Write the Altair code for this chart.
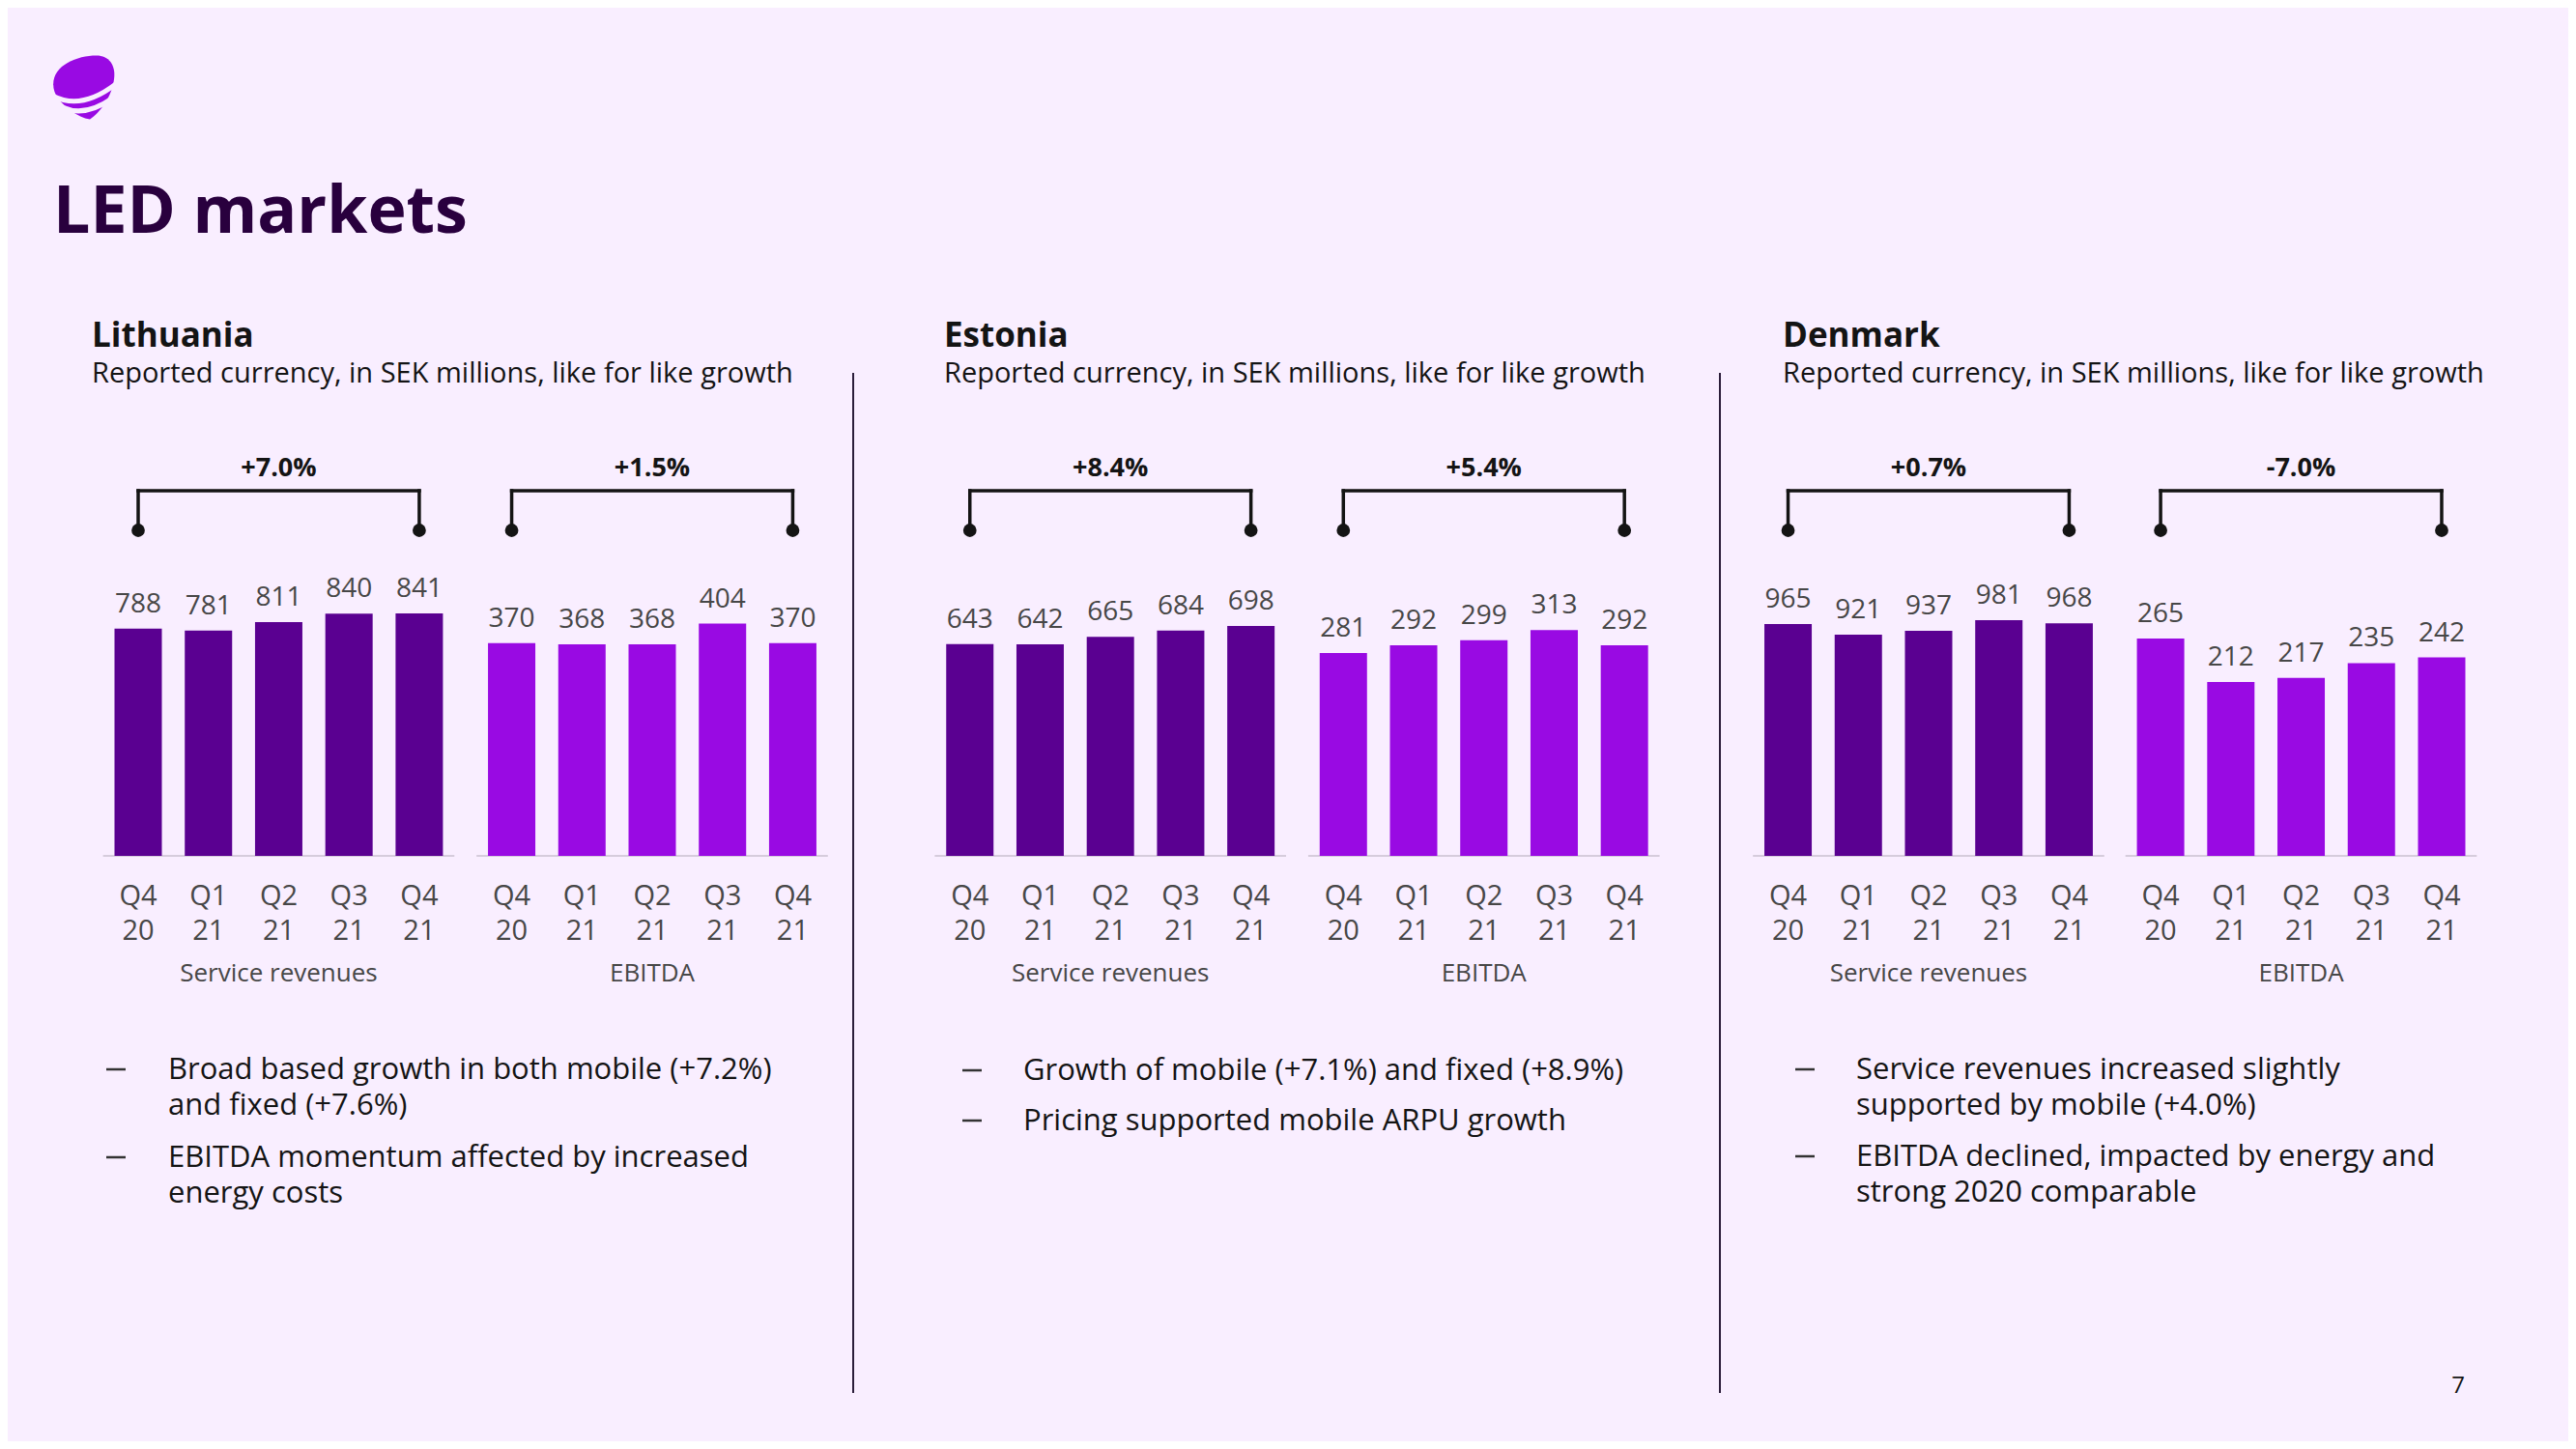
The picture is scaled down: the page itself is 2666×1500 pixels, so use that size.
import altair as alt
import pandas as pd

# ---------------- data ----------------
quarters = ["Q4", "Q1", "Q2", "Q3", "Q4"]
years = ["20", "21", "21", "21", "21"]

lt_sr = [788, 781, 811, 840, 841]
lt_ebitda = [370, 368, 368, 404, 370]
ee_sr = [643, 642, 665, 684, 698]
ee_ebitda = [281, 292, 299, 313, 292]
dk_sr = [965, 921, 937, 981, 968]
dk_ebitda = [265, 212, 217, 235, 242]

lt_growth = ["+7.0%", "+1.5%"]
ee_growth = ["+8.4%", "+5.4%"]
dk_growth = ["+0.7%", "-7.0%"]

metric_names = ["Service revenues", "EBITDA"]
countries = ["Lithuania", "Estonia", "Denmark"]
subtitle = "Reported currency, in SEK millions, like for like growth"
page_title = "LED markets"

lt_bullets = [["Broad based growth in both mobile (+7.2%)", "and fixed (+7.6%)"],
              ["EBITDA momentum affected by increased", "energy costs"]]
ee_bullets = [["Growth of mobile (+7.1%) and fixed (+8.9%)"],
              ["Pricing supported mobile ARPU growth"]]
dk_bullets = [["Service revenues increased slightly", "supported by mobile (+4.0%)"],
              ["EBITDA declined, impacted by energy and", "strong 2020 comparable"]]

# ---------------- style / layout ----------------
W, H = 2650, 1484
OFF = 8
FONT = "Open Sans"
BG = "#F9EEFF"
DARK = "#5A0091"
BRIGHT = "#990AE3"
TITLE_C = "#29003E"
INK = "#141414"
GREY = "#474747"
AXIS_C = "#D6CCDC"

STEP = 73.0
BAR_W = 49
BASE = 886

panels = [
    (lt_sr, metric_names[0], lt_growth[0], DARK, 102, 0.2985),
    (lt_ebitda, metric_names[1], lt_growth[1], BRIGHT, 490, 0.595),
    (ee_sr, metric_names[0], ee_growth[0], DARK, 966, 0.341),
    (ee_ebitda, metric_names[1], ee_growth[1], BRIGHT, 1354, 0.747),
    (dk_sr, metric_names[0], dk_growth[0], DARK, 1816, 0.2487),
    (dk_ebitda, metric_names[1], dk_growth[1], BRIGHT, 2203, 0.849),
]


def one():
    return alt.Data(values=[{}])


def panel(values, metric, growth, color, x0, k):
    x0c = x0 - OFF
    d0 = -0.5 - x0c / STEP
    xs = alt.Scale(domain=[d0, d0 + W / STEP], nice=False, zero=False)
    bc = BASE - OFF
    y0 = (bc - H) / k
    ys = alt.Scale(domain=[y0, y0 + H / k], nice=False, zero=False)

    df = pd.DataFrame({"idx": list(range(len(values))), "value": values,
                       "q": quarters, "yr": years})
    base = alt.Chart(df)
    X = alt.X("idx:Q", scale=xs, axis=None)
    Y = alt.Y("value:Q", scale=ys, axis=None)

    bars = base.mark_bar(size=BAR_W, color=color).encode(x=X, y=Y)
    vals = base.mark_text(dy=-17, baseline="alphabetic", fontSize=28, font=FONT,
                          color=GREY).encode(x=X, y=Y, text="value:Q")
    axis_line = alt.Chart(one()).mark_rule(color=AXIS_C, strokeWidth=2).encode(
        x=alt.XDatum(-0.5, type="quantitative", scale=xs, axis=None),
        x2=alt.X2Datum(len(values) - 0.5),
        y=alt.YDatum(0, type="quantitative", scale=ys, axis=None))
    qlab = base.mark_text(baseline="alphabetic", fontSize=29, font=FONT,
                          color=GREY).encode(x=X, y=alt.value(937 - OFF), text="q:N")
    ylab = base.mark_text(baseline="alphabetic", fontSize=29, font=FONT,
                          color=GREY).encode(x=X, y=alt.value(973 - OFF), text="yr:N")
    mid = alt.XDatum((len(values) - 1) / 2, type="quantitative", scale=xs, axis=None)
    cat = alt.Chart(pd.DataFrame({"m": [metric]})).mark_text(
        baseline="alphabetic", fontSize=26, font=FONT, color=GREY).encode(
        x=mid, y=alt.value(1016 - OFF), text="m:N")
    hline = base.mark_rule(color=INK, strokeWidth=3.5, strokeCap="square").encode(
        x=alt.X("min(idx):Q", scale=xs, axis=None), x2="max(idx):Q",
        y=alt.value(508 - OFF))
    ends = base.transform_filter(f"datum.idx == 0 || datum.idx == {len(values) - 1}")
    vlines = ends.mark_rule(color=INK, strokeWidth=3.5, strokeCap="square").encode(
        x=X, y=alt.value(508 - OFF), y2=alt.value(549 - OFF))
    dots = ends.mark_circle(size=190, color=INK, opacity=1).encode(
        x=X, y=alt.value(549 - OFF))
    glab = alt.Chart(pd.DataFrame({"g": [growth]})).mark_text(
        baseline="alphabetic", fontSize=27, fontWeight="bold", font=FONT,
        color=INK).encode(x=mid, y=alt.value(493 - OFF), text="g:N")
    return alt.layer(axis_line, bars, vals, qlab, ylab, cat, hline, vlines, dots, glab)


def txt(text, x, y, size, color=INK, weight="normal", align="left"):
    props = dict(align=align, baseline="alphabetic", fontSize=size,
                 fontWeight=weight, color=color, font=FONT)
    return alt.Chart(pd.DataFrame({"t": [text]})).mark_text(**props).encode(
        x=alt.value(x - OFF), y=alt.value(y - OFF), text="t:N")


def vrule(x, y1, y2):
    return alt.Chart(one()).mark_rule(color="#2B1D3A", strokeWidth=2).encode(
        x=alt.value(x - OFF), y=alt.value(y1 - OFF), y2=alt.value(y2 - OFF))


def dash(x1, x2, y):
    return alt.Chart(one()).mark_rule(color="#333333", strokeWidth=2.5).encode(
        x=alt.value(x1 - OFF), x2=alt.value(x2 - OFF), y=alt.value(y - OFF))


layers = [panel(*p) for p in panels]

# page title, logo, page number
layers.append(txt(page_title, 55, 241, 68, color=TITLE_C, weight="bold"))
body = ("M -0.95 -0.1 C -0.95 -0.7 -0.2 -1.0 0.4 -1.0 C 0.8 -1.0 1.0 -0.7 0.96 -0.3 "
        "C 0.9 0.3 0.5 0.8 0.2 1.0 C -0.2 0.95 -0.6 0.6 -0.8 0.35 "
        "C -0.9 0.2 -0.95 0.05 -0.95 -0.1 Z")
stripes = ("M -0.95 0.27 Q -0.07 0.72 1.0 -0.1 M -0.62 0.64 Q 0.05 0.94 0.92 0.33")
layers.append(alt.Chart(one()).mark_point(shape=body, filled=True, color=BRIGHT,
                                          opacity=1, size=66 * 66).encode(
    x=alt.value(86.5 - OFF), y=alt.value(90.5 - OFF)))
layers.append(alt.Chart(one()).mark_point(shape=stripes, filled=False, stroke=BG,
                                          strokeWidth=5, opacity=1, size=66 * 66).encode(
    x=alt.value(86.5 - OFF), y=alt.value(90.5 - OFF)))
layers.append(txt("7", 2544, 1442, 24, align="center"))

# country headers
head_x = [95, 977, 1845]
for c, hx in zip(countries, head_x):
    layers.append(txt(c, hx, 359, 35, weight="bold"))
    layers.append(txt(subtitle, hx, 396, 29))

# separators
layers.append(vrule(883, 386, 1442))
layers.append(vrule(1780, 386, 1442))

# bullets (one text per line)
LINE = 37
bullet_sets = [
    (lt_bullets, 110, 174, [1117, 1208]),
    (ee_bullets, 996, 1059, [1118, 1170]),
    (dk_bullets, 1858, 1921, [1117, 1207]),
]
for items, dash_x, text_x, ys in bullet_sets:
    for lines, yy in zip(items, ys):
        layers.append(dash(dash_x, dash_x + 20, yy - 10))
        for j, line in enumerate(lines):
            layers.append(txt(line, text_x, yy + j * LINE, 31))

chart = alt.layer(*layers).resolve_scale(x="independent", y="independent").properties(
    width=W, height=H, background=BG, padding=0,
    autosize=alt.AutoSizeParams(type="none"),
).configure_view(stroke=None)

chart.save("out.html", embed_options={"renderer": "svg", "actions": False})
